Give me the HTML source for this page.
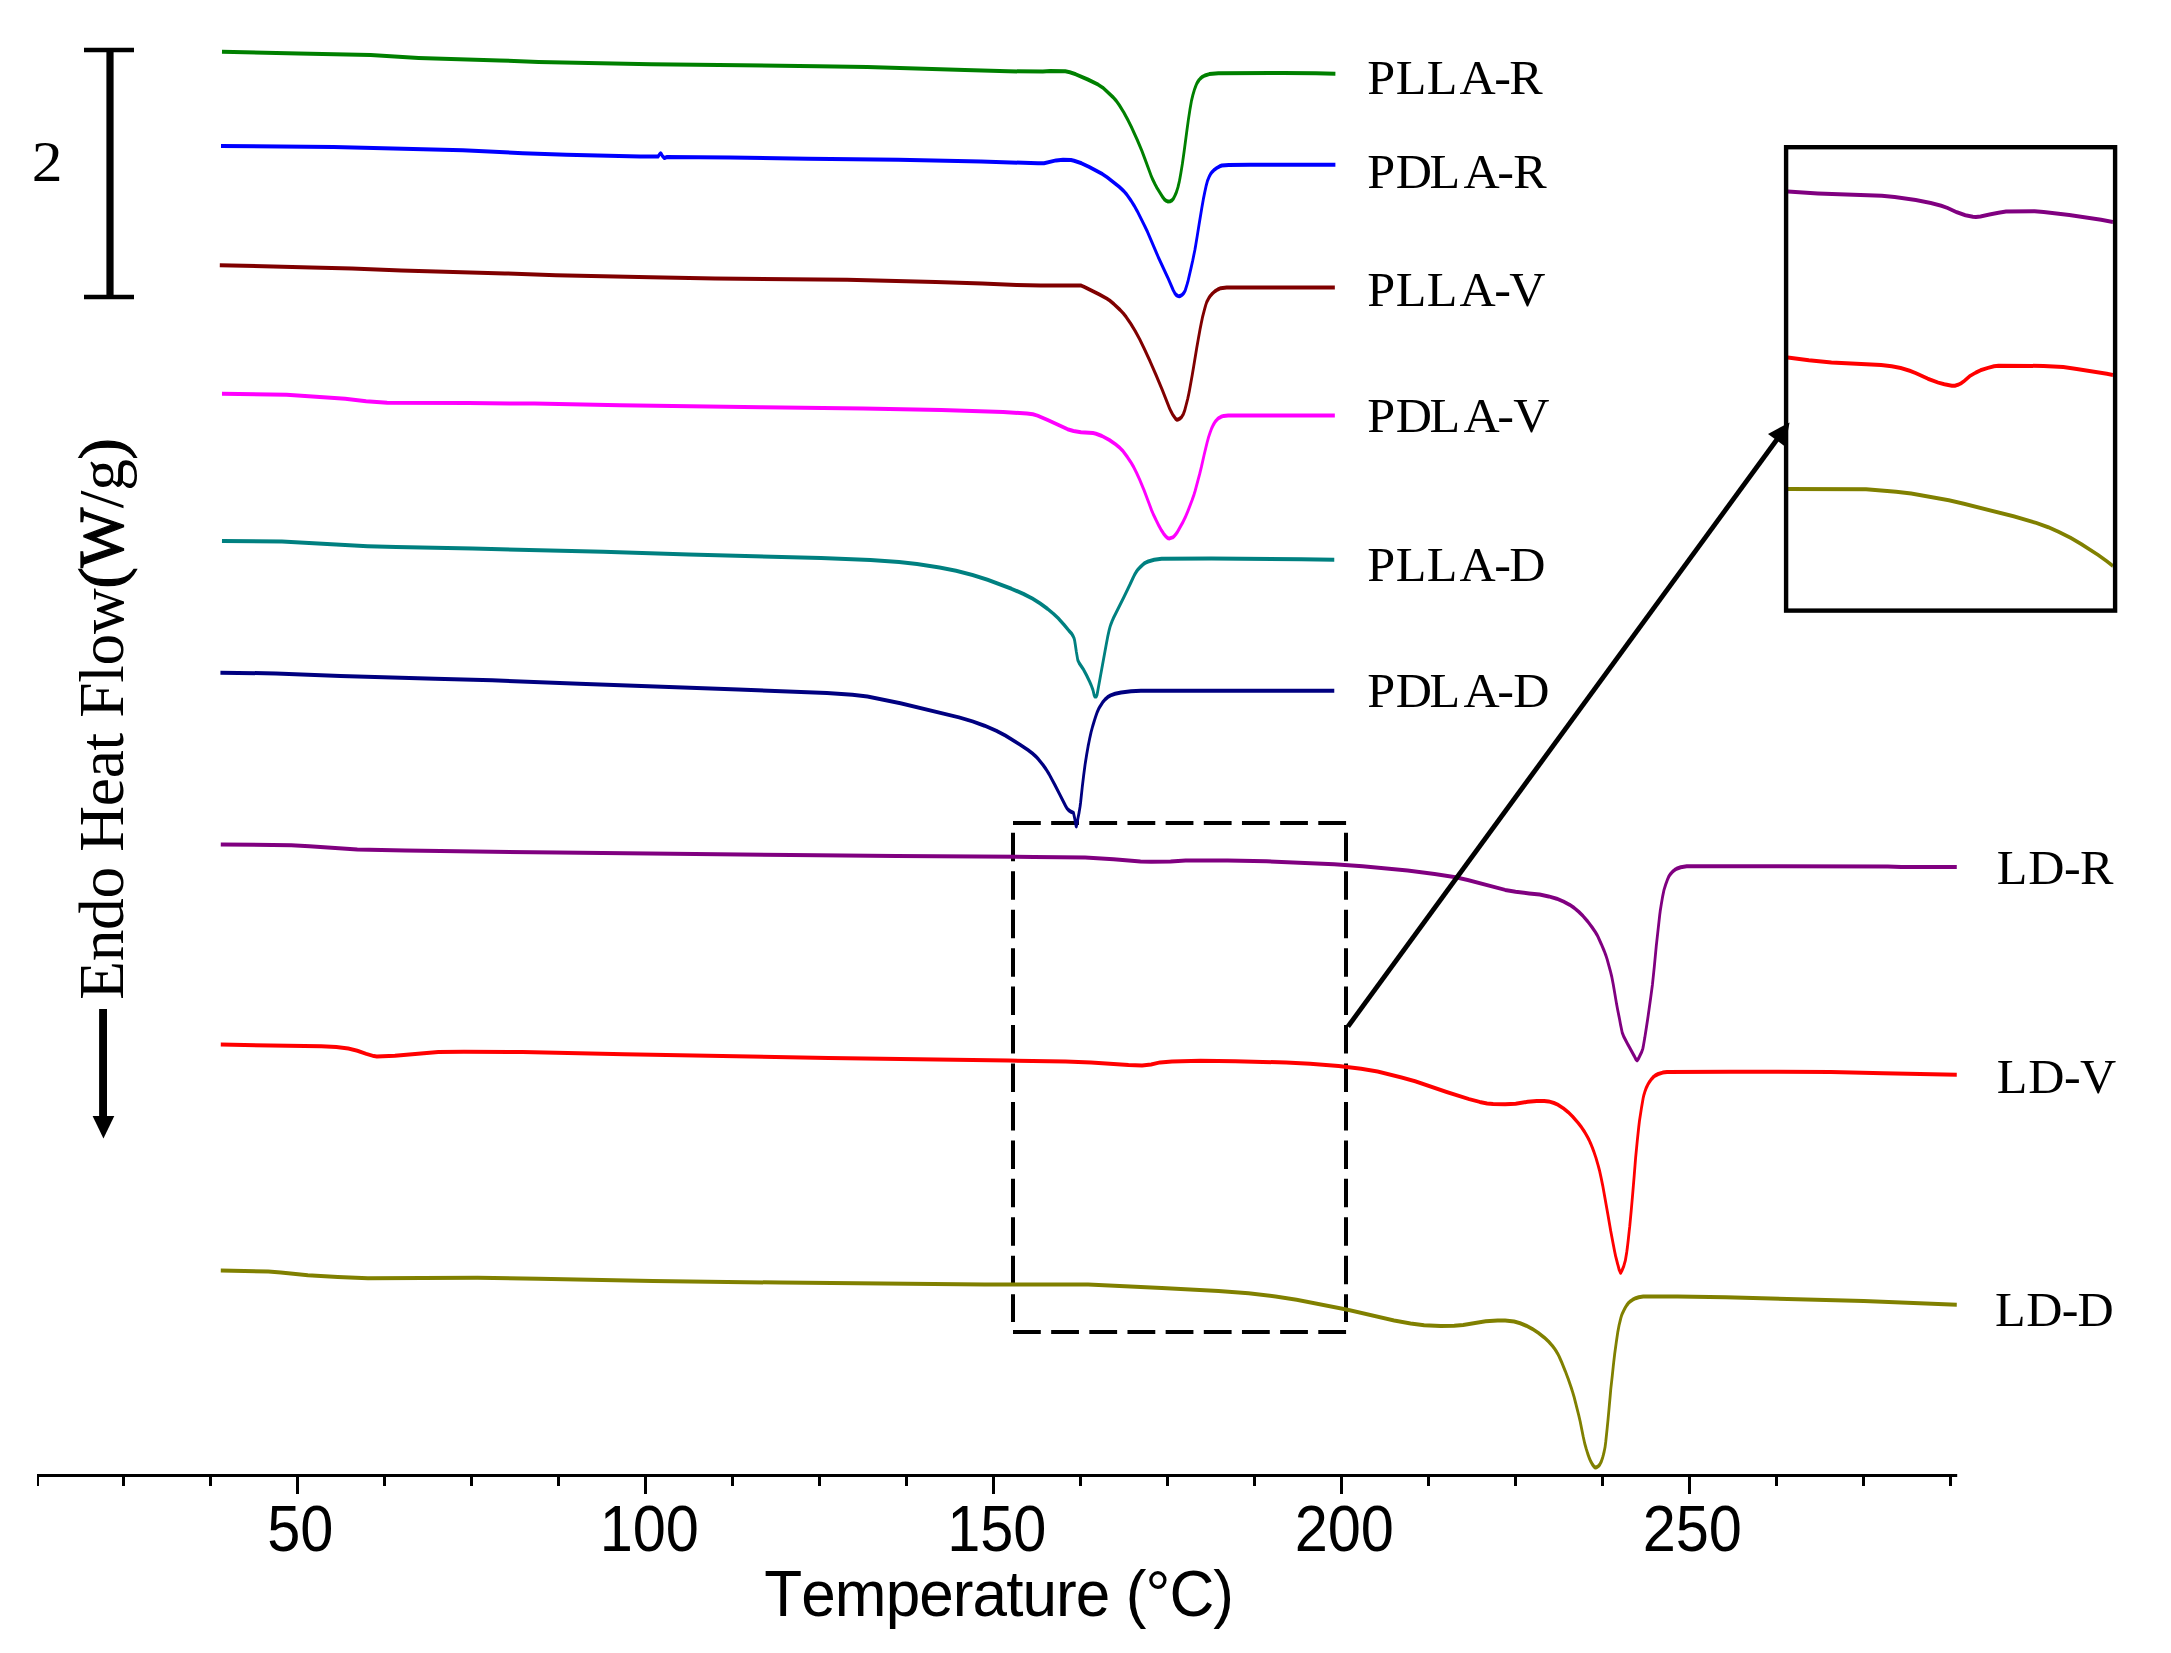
<!DOCTYPE html>
<html lang="en"><head><meta charset="utf-8"><title>DSC heating curves</title>
<style>
html,body{margin:0;padding:0;background:#fff;}
body{width:2171px;height:1653px;overflow:hidden;}
svg{display:block;}
text{font-kerning:none;}
.lab{font-family:"Liberation Serif",serif;font-size:48px;fill:#000;}
.tick{font-family:"Liberation Sans",sans-serif;font-size:64px;fill:#000;text-anchor:middle;}
.crv{fill:none;stroke-width:4.0;stroke-linejoin:round;stroke-linecap:butt;}
</style></head><body>
<svg width="2171" height="1653" viewBox="0 0 2171 1653">
<rect x="0" y="0" width="2171" height="1653" fill="#ffffff"/>
<g stroke="#000" stroke-width="3" fill="none">
<line x1="37" y1="1475.5" x2="1957.2" y2="1475.5"/>
<line x1="38" y1="1475.5" x2="38" y2="1486.0" stroke-width="2"/>
<line x1="123.5" y1="1475.5" x2="123.5" y2="1486.0"/>
<line x1="210.5" y1="1475.5" x2="210.5" y2="1486.0"/>
<line x1="297.5" y1="1475.5" x2="297.5" y2="1494.0"/>
<line x1="384.5" y1="1475.5" x2="384.5" y2="1486.0"/>
<line x1="471.5" y1="1475.5" x2="471.5" y2="1486.0"/>
<line x1="558.5" y1="1475.5" x2="558.5" y2="1486.0"/>
<line x1="645.5" y1="1475.5" x2="645.5" y2="1494.0"/>
<line x1="732.5" y1="1475.5" x2="732.5" y2="1486.0"/>
<line x1="819.5" y1="1475.5" x2="819.5" y2="1486.0"/>
<line x1="906.5" y1="1475.5" x2="906.5" y2="1486.0"/>
<line x1="993.5" y1="1475.5" x2="993.5" y2="1494.0"/>
<line x1="1080.5" y1="1475.5" x2="1080.5" y2="1486.0"/>
<line x1="1167.5" y1="1475.5" x2="1167.5" y2="1486.0"/>
<line x1="1254.5" y1="1475.5" x2="1254.5" y2="1486.0"/>
<line x1="1341.5" y1="1475.5" x2="1341.5" y2="1494.0"/>
<line x1="1428.5" y1="1475.5" x2="1428.5" y2="1486.0"/>
<line x1="1515.5" y1="1475.5" x2="1515.5" y2="1486.0"/>
<line x1="1602.5" y1="1475.5" x2="1602.5" y2="1486.0"/>
<line x1="1689.5" y1="1475.5" x2="1689.5" y2="1494.0"/>
<line x1="1776.5" y1="1475.5" x2="1776.5" y2="1486.0"/>
<line x1="1863.5" y1="1475.5" x2="1863.5" y2="1486.0"/>
<line x1="1950.5" y1="1475.5" x2="1950.5" y2="1486.0"/>
</g>
<text class="tick" transform="translate(300.3 1550.6) scale(0.93 1)">50</text>
<text class="tick" transform="translate(649.3 1550.6) scale(0.93 1)">100</text>
<text class="tick" transform="translate(996.8 1550.6) scale(0.93 1)">150</text>
<text class="tick" transform="translate(1344.3 1550.6) scale(0.93 1)">200</text>
<text class="tick" transform="translate(1692.3 1550.6) scale(0.93 1)">250</text>
<text transform="translate(764.3 1616.2) scale(0.965 1)" textLength="486.7" lengthAdjust="spacing" style="font-family:'Liberation Sans',sans-serif;font-size:64.3px;fill:#000">Temperature (°C)</text>
<g stroke="#000" stroke-width="4" fill="none">
<line x1="1013" y1="823" x2="1346.1" y2="823" stroke-dasharray="27.8 10.36"/>
<line x1="1013" y1="1332" x2="1346.1" y2="1332" stroke-dasharray="27.8 10.36"/>
<line x1="1013" y1="832.8" x2="1013" y2="1322" stroke-dasharray="28.5 9.95"/>
<line x1="1346" y1="832.8" x2="1346" y2="1322" stroke-dasharray="28.5 9.95"/>
</g>
<g transform="scale(0.700 1)">
<path class="crv" stroke="#008000" d="M317.1 51.7 L426.5 53.5 L529.4 55.1 L598.0 58.0 L713.7 60.4 L769.4 62.0 L930.2 64.3 L1168.2 66.2 L1238.9 66.9 L1378.2 69.9 L1440.4 71.3 L1489.7 71.6 L1500.4 71.0 L1521.9 71.3 L1528.3 72.3 L1536.9 74.3 L1554.0 79.5 L1569.0 84.7 L1575.5 87.7 L1590.5 97.5 L1594.7 100.9 L1599.0 105.2 L1605.5 112.5 L1611.9 120.8 L1616.2 126.9 L1624.8 140.1 L1631.2 150.8 L1635.5 158.7 L1644.0 174.9 L1646.4 179.0 L1650.5 184.9 L1652.9 188.0 L1656.9 192.5 L1661.2 197.3 L1663.6 199.5 L1665.5 200.6 L1668.1 201.4 L1672.1 201.2 L1674.1 200.4 L1676.2 198.7 L1678.3 195.9 L1680.5 192.4 L1682.7 187.5 L1684.8 181.3 L1685.7 178.0 L1686.9 173.3 L1689.1 163.9 L1691.7 151.0 L1695.5 130.9 L1697.6 120.1 L1699.8 110.1 L1702.0 101.2 L1704.1 95.0 L1706.2 89.9 L1708.4 85.7 L1709.3 84.2 L1710.5 82.5 L1712.9 80.0 L1714.8 78.5 L1716.9 77.2 L1721.2 75.5 L1727.6 74.1 L1740.5 73.2 L1832.7 73.0 L1879.8 73.2 L1907.7 73.8"/>
<path class="crv" stroke="#0000ff" d="M315.7 146.0 L476.6 146.9 L661.1 150.3 L747.0 153.2 L809.2 154.8 L914.3 156.4 L940.1 156.5 L942.2 154.3 L943.6 153.2 L944.4 153.6 L946.5 156.1 L948.7 157.8 L949.3 158.0 L952.9 157.0 L1043.1 157.6 L1154.6 158.7 L1283.4 159.7 L1401.4 161.5 L1482.9 163.3 L1491.5 163.2 L1508.6 160.4 L1518.6 159.8 L1530.1 160.1 L1534.4 160.7 L1545.1 163.3 L1555.8 166.8 L1575.2 174.2 L1581.6 177.2 L1598.8 186.8 L1605.3 191.0 L1609.5 194.4 L1615.9 200.7 L1620.2 205.6 L1624.5 210.9 L1635.2 225.8 L1639.5 232.2 L1654.5 256.8 L1663.1 269.8 L1668.1 277.3 L1676.0 290.1 L1678.1 292.9 L1680.3 294.9 L1682.4 295.9 L1684.6 296.3 L1686.7 295.8 L1688.9 294.8 L1691.0 293.1 L1692.3 291.7 L1693.2 290.4 L1696.0 284.0 L1697.5 280.2 L1701.7 267.4 L1703.9 260.5 L1706.0 253.2 L1706.9 250.2 L1708.2 245.1 L1710.3 236.1 L1712.9 224.8 L1716.8 208.3 L1719.0 199.4 L1721.1 192.1 L1723.2 185.4 L1725.0 180.8 L1727.5 176.5 L1729.6 173.8 L1731.8 171.8 L1733.9 170.3 L1738.2 168.0 L1742.5 166.3 L1745.6 165.5 L1755.4 164.9 L1785.4 164.7 L1907.7 164.7"/>
<path class="crv" stroke="#800000" d="M314.0 265.2 L444.8 267.5 L502.7 268.6 L573.4 270.4 L721.3 273.4 L794.2 275.2 L929.3 277.3 L1021.5 278.4 L1210.1 279.8 L1336.6 282.0 L1403.1 283.6 L1452.4 285.1 L1486.7 285.6 L1542.6 285.4 L1544.6 285.6 L1548.8 286.8 L1570.3 294.3 L1581.0 298.5 L1585.3 300.5 L1591.7 304.3 L1600.3 310.0 L1604.9 313.5 L1608.9 317.1 L1615.3 323.6 L1621.7 331.0 L1628.2 339.4 L1634.6 348.6 L1643.2 361.7 L1651.7 375.4 L1660.3 389.8 L1668.9 405.1 L1671.0 408.7 L1673.2 411.8 L1675.3 414.6 L1679.6 418.9 L1681.3 419.7 L1683.9 419.2 L1686.0 418.3 L1688.2 416.8 L1690.4 414.2 L1692.5 410.2 L1694.6 404.6 L1696.8 398.6 L1698.1 394.3 L1698.9 391.7 L1703.2 375.1 L1705.3 366.3 L1709.6 348.0 L1711.8 339.2 L1714.3 329.5 L1716.1 323.1 L1717.6 318.1 L1718.2 316.2 L1720.9 309.0 L1722.5 305.0 L1724.1 301.7 L1726.8 298.2 L1728.9 296.0 L1731.9 293.6 L1735.4 291.4 L1739.6 289.5 L1743.9 288.2 L1752.5 287.6 L1906.9 287.6"/>
<path class="crv" stroke="#ff00ff" d="M317.1 393.8 L409.4 394.8 L467.3 397.4 L493.1 398.7 L523.1 401.3 L553.1 402.7 L669.0 403.1 L763.4 403.6 L885.7 405.2 L1087.3 407.2 L1233.2 408.4 L1344.8 410.1 L1433.1 412.0 L1467.1 413.5 L1475.6 414.2 L1482.1 415.6 L1497.1 420.2 L1525.0 429.2 L1533.6 431.0 L1544.3 432.3 L1561.5 433.1 L1565.7 433.7 L1574.3 436.0 L1585.1 440.1 L1593.6 444.3 L1600.1 448.1 L1604.4 451.2 L1610.8 457.3 L1615.1 461.8 L1619.4 466.9 L1623.7 472.9 L1628.0 479.5 L1634.4 490.3 L1640.8 502.1 L1645.1 510.2 L1647.3 513.8 L1651.6 520.2 L1655.8 526.1 L1659.3 530.4 L1662.3 533.7 L1664.4 535.6 L1666.6 537.2 L1668.7 538.3 L1670.9 538.4 L1675.2 537.4 L1677.3 536.3 L1680.0 534.0 L1681.6 532.4 L1686.4 526.5 L1690.2 521.7 L1693.0 517.7 L1696.6 511.8 L1703.0 500.1 L1706.0 494.1 L1707.3 491.0 L1711.6 479.7 L1713.8 474.0 L1716.3 466.9 L1720.3 454.5 L1722.4 448.3 L1724.5 442.4 L1726.6 437.0 L1728.8 432.4 L1730.9 428.4 L1733.1 425.1 L1735.7 422.0 L1737.4 420.5 L1739.7 418.8 L1741.7 417.8 L1744.3 416.8 L1748.1 415.9 L1754.5 415.6 L1906.9 415.5"/>
<path class="crv" stroke="#008080" d="M317.1 540.9 L402.9 541.6 L441.5 543.0 L525.1 546.2 L565.9 547.1 L675.3 548.5 L861.8 551.8 L984.1 554.6 L1172.8 558.0 L1243.5 560.1 L1284.3 562.0 L1310.0 563.9 L1342.2 567.4 L1365.8 570.7 L1389.3 575.0 L1410.8 579.8 L1445.1 588.8 L1462.3 594.0 L1475.1 598.7 L1485.8 603.4 L1496.6 608.9 L1505.1 613.9 L1511.6 618.2 L1520.2 624.9 L1526.6 630.3 L1530.9 633.6 L1533.0 636.1 L1534.4 638.3 L1535.2 640.5 L1536.0 644.0 L1537.6 651.6 L1539.5 659.4 L1539.9 660.4 L1541.6 663.0 L1548.0 669.7 L1552.4 675.5 L1556.6 681.6 L1558.8 685.1 L1561.4 690.0 L1563.0 694.9 L1564.0 696.5 L1566.1 696.5 L1567.3 694.6 L1571.6 678.0 L1573.8 669.5 L1580.2 644.9 L1582.3 637.2 L1584.5 630.2 L1585.6 627.3 L1586.6 625.0 L1588.8 621.0 L1590.9 617.6 L1605.9 596.7 L1614.5 584.2 L1618.8 577.6 L1620.9 574.6 L1623.1 572.0 L1625.2 569.8 L1629.5 566.7 L1633.8 563.9 L1635.9 562.9 L1640.2 561.5 L1648.8 559.8 L1659.5 558.8 L1730.3 558.5 L1859.0 559.3 L1906.1 559.8"/>
<path class="crv" stroke="#000080" d="M314.9 672.7 L394.2 673.4 L486.4 676.1 L621.5 678.7 L703.0 680.3 L827.4 683.8 L1054.7 689.5 L1181.3 693.0 L1217.7 694.8 L1239.2 696.5 L1286.4 703.3 L1370.0 717.4 L1389.3 721.4 L1406.5 725.7 L1423.6 730.9 L1436.5 735.7 L1457.9 745.0 L1468.6 750.0 L1475.1 753.5 L1479.4 756.2 L1483.7 759.4 L1490.1 765.0 L1494.4 769.2 L1498.7 774.1 L1507.2 785.2 L1513.7 794.1 L1522.3 806.0 L1524.4 808.5 L1526.6 810.1 L1529.3 811.5 L1533.0 812.6 L1533.6 813.0 L1535.1 817.8 L1537.3 826.0 L1537.6 826.3 L1539.4 820.4 L1540.0 818.0 L1541.6 812.4 L1543.0 806.4 L1543.7 802.6 L1546.1 787.0 L1548.0 775.9 L1549.3 768.8 L1550.1 764.6 L1552.4 754.5 L1554.4 746.4 L1555.6 742.2 L1556.6 738.8 L1558.7 732.1 L1560.9 726.4 L1563.6 720.1 L1565.2 716.7 L1567.3 712.4 L1569.4 709.1 L1571.6 706.3 L1575.9 701.7 L1578.6 699.5 L1582.3 697.2 L1586.6 695.4 L1593.0 693.7 L1601.6 692.4 L1615.7 691.2 L1629.9 690.7 L1906.1 690.7"/>
<path class="crv" stroke="#800080" d="M315.4 844.4 L416.2 845.3 L441.9 846.2 L510.5 849.4 L579.1 850.5 L795.6 852.6 L1129.9 855.0 L1280.0 856.0 L1477.2 856.9 L1550.1 857.6 L1590.8 859.2 L1629.4 861.4 L1644.4 861.8 L1672.2 861.4 L1693.7 860.6 L1753.7 860.5 L1809.4 861.3 L1905.9 864.3 L1946.6 866.3 L2010.9 870.5 L2049.5 873.9 L2079.5 877.3 L2096.7 880.0 L2150.2 889.9 L2165.2 891.8 L2184.5 893.4 L2199.5 894.5 L2212.4 896.4 L2223.9 898.7 L2233.8 901.6 L2242.4 904.8 L2248.8 907.9 L2255.7 912.0 L2261.7 916.2 L2268.1 921.4 L2274.6 927.5 L2278.9 931.9 L2281.9 935.4 L2283.1 937.1 L2287.4 943.8 L2291.7 950.9 L2294.3 955.7 L2296.0 959.5 L2300.3 970.4 L2302.6 977.0 L2304.6 984.3 L2306.7 992.9 L2309.4 1004.1 L2311.0 1010.0 L2313.6 1019.0 L2315.3 1025.4 L2317.4 1032.5 L2319.6 1036.5 L2326.0 1045.1 L2334.6 1055.9 L2336.7 1059.0 L2338.6 1060.2 L2338.9 1060.2 L2341.0 1058.2 L2345.3 1051.8 L2346.9 1048.6 L2347.4 1046.9 L2349.6 1038.1 L2351.7 1028.7 L2353.9 1018.8 L2358.2 997.4 L2360.3 986.3 L2360.6 984.8 L2362.4 972.8 L2363.4 966.0 L2366.1 946.1 L2366.7 942.2 L2371.0 915.1 L2371.7 911.3 L2373.2 904.6 L2375.3 896.1 L2377.1 890.0 L2379.6 884.4 L2381.7 880.3 L2384.1 876.4 L2386.0 874.4 L2389.3 871.8 L2392.5 869.9 L2395.1 868.7 L2401.0 867.2 L2409.6 866.2 L2696.8 866.4 L2716.1 867.0 L2795.4 867.1"/>
<path class="crv" stroke="#ff0000" d="M315.4 1044.6 L459.0 1046.3 L480.5 1047.0 L497.6 1048.5 L510.5 1050.7 L523.3 1053.9 L534.1 1056.1 L538.3 1056.4 L564.1 1055.8 L626.2 1052.0 L662.7 1051.8 L746.3 1052.0 L892.0 1054.2 L1183.5 1057.9 L1440.8 1060.6 L1522.2 1061.5 L1558.6 1062.5 L1612.2 1065.1 L1631.5 1065.4 L1644.4 1064.5 L1657.2 1062.4 L1674.4 1061.5 L1715.1 1060.8 L1764.4 1061.2 L1837.3 1062.5 L1871.6 1063.8 L1912.3 1066.1 L1944.5 1068.8 L1968.0 1071.5 L2002.3 1077.5 L2021.6 1081.2 L2066.6 1092.0 L2098.8 1099.1 L2113.8 1101.9 L2124.5 1103.5 L2133.1 1104.0 L2150.2 1104.3 L2165.2 1103.8 L2182.4 1101.8 L2195.3 1101.0 L2206.0 1101.0 L2212.4 1101.4 L2220.0 1103.0 L2225.3 1104.7 L2233.8 1108.5 L2240.3 1112.2 L2246.7 1116.6 L2254.3 1122.8 L2259.6 1127.6 L2263.8 1132.0 L2268.1 1137.3 L2270.3 1140.3 L2272.4 1143.6 L2275.0 1148.0 L2276.7 1151.2 L2280.0 1158.0 L2283.1 1165.5 L2285.3 1171.3 L2287.4 1178.1 L2289.6 1185.6 L2297.1 1215.0 L2301.1 1231.2 L2304.7 1244.5 L2306.7 1251.7 L2308.1 1256.4 L2308.9 1258.5 L2311.0 1264.3 L2311.7 1266.0 L2313.1 1269.8 L2315.0 1272.8 L2315.3 1272.7 L2317.4 1270.0 L2319.6 1266.2 L2321.7 1261.0 L2322.0 1260.2 L2323.9 1252.2 L2324.9 1247.0 L2326.0 1240.4 L2327.4 1231.2 L2328.2 1226.3 L2330.3 1210.7 L2332.4 1194.0 L2334.6 1175.6 L2336.6 1157.7 L2338.9 1141.3 L2341.0 1127.4 L2342.1 1120.9 L2343.2 1115.8 L2345.3 1106.4 L2347.4 1098.0 L2348.1 1095.8 L2349.6 1092.2 L2351.7 1088.0 L2353.9 1084.8 L2356.0 1082.2 L2358.2 1080.1 L2360.3 1078.3 L2362.4 1076.7 L2364.7 1075.5 L2368.9 1074.0 L2375.3 1072.6 L2381.4 1071.9 L2471.8 1071.7 L2615.4 1072.0 L2690.4 1073.3 L2795.4 1074.8"/>
<path class="crv" stroke="#808000" d="M315.4 1270.6 L383.3 1271.6 L401.2 1272.6 L439.8 1275.2 L482.6 1277.0 L525.5 1278.3 L682.0 1277.8 L769.8 1278.8 L932.7 1280.9 L1114.9 1282.6 L1406.5 1284.4 L1554.4 1284.5 L1659.7 1288.1 L1740.8 1291.1 L1783.7 1293.3 L1822.3 1296.5 L1852.3 1299.7 L1925.2 1309.8 L1991.6 1320.4 L2015.2 1323.4 L2034.5 1325.2 L2058.1 1326.0 L2077.4 1325.7 L2090.2 1325.1 L2122.4 1321.3 L2139.5 1320.4 L2150.2 1320.6 L2163.1 1321.5 L2171.7 1323.3 L2180.3 1325.7 L2188.8 1328.8 L2197.4 1332.7 L2206.0 1337.4 L2212.4 1341.7 L2217.9 1346.0 L2221.0 1348.9 L2223.1 1351.1 L2225.3 1353.7 L2227.4 1356.6 L2231.7 1363.4 L2236.0 1370.9 L2240.3 1378.9 L2244.6 1387.6 L2246.7 1392.3 L2248.8 1397.3 L2251.0 1403.2 L2255.3 1415.1 L2257.4 1421.5 L2261.7 1436.5 L2263.9 1443.5 L2266.0 1448.8 L2268.1 1453.5 L2270.3 1457.9 L2272.4 1461.3 L2275.0 1464.5 L2276.7 1466.2 L2278.9 1467.6 L2281.0 1467.2 L2283.6 1466.0 L2285.3 1464.6 L2287.4 1461.8 L2289.6 1457.3 L2290.3 1455.5 L2291.7 1451.5 L2292.9 1447.3 L2293.9 1441.9 L2296.0 1428.0 L2297.1 1420.2 L2298.1 1412.8 L2299.1 1405.0 L2300.3 1395.8 L2301.1 1389.3 L2303.3 1375.5 L2304.6 1366.8 L2305.3 1362.2 L2306.7 1353.9 L2308.9 1342.6 L2311.0 1332.6 L2313.1 1324.8 L2315.3 1318.5 L2316.4 1315.8 L2317.4 1313.9 L2319.6 1310.6 L2321.7 1307.8 L2323.9 1305.3 L2326.1 1303.2 L2328.2 1301.8 L2332.4 1299.7 L2336.7 1298.2 L2341.0 1297.2 L2347.4 1296.4 L2396.7 1296.4 L2465.3 1297.2 L2662.5 1301.0 L2795.4 1304.8"/>
<path class="crv" stroke="#800080" d="M2554.0 191.5 L2597.0 193.4 L2688.3 195.8 L2706.7 197.1 L2736.8 200.1 L2758.3 203.0 L2773.3 205.8 L2781.9 207.9 L2795.7 212.3 L2807.7 215.3 L2818.5 216.8 L2822.8 217.0 L2829.2 216.5 L2842.1 214.6 L2855.0 212.7 L2865.8 211.4 L2906.6 211.3 L2919.5 211.9 L2956.1 215.0 L3001.6 219.8 L3018.4 222.0"/>
<path class="crv" stroke="#ff0000" d="M2554.0 357.5 L2584.1 360.3 L2616.4 362.4 L2687.3 364.9 L2702.4 366.2 L2715.3 368.0 L2728.2 370.8 L2736.8 373.1 L2754.0 378.7 L2769.0 382.6 L2777.7 384.3 L2788.4 385.7 L2792.7 385.7 L2797.0 384.8 L2801.3 383.4 L2805.6 381.2 L2814.2 376.0 L2822.8 372.5 L2829.2 370.3 L2840.0 367.9 L2848.6 366.3 L2855.0 365.8 L2919.5 365.9 L2947.5 367.1 L2966.8 368.9 L3009.8 373.8 L3018.4 374.9"/>
<path class="crv" stroke="#808000" d="M2554.0 489.1 L2665.8 489.2 L2708.8 491.7 L2730.3 493.5 L2784.1 500.3 L2805.6 503.8 L2876.5 516.3 L2908.8 522.9 L2926.0 527.2 L2941.0 531.8 L2958.2 537.9 L2973.3 544.1 L2996.9 554.7 L3009.8 561.2 L3018.4 565.9"/>
</g>
<line x1="1348.0" y1="1026.5" x2="1777.7" y2="438.5" stroke="#000" stroke-width="4.8"/>
<polygon fill="#000" points="1789.5,422.4 1785.0,446.4 1768.0,434.0"/>
<rect x="1786.1" y="147.2" width="329" height="463.4" fill="none" stroke="#000" stroke-width="4.4"/>
<g stroke="#000" fill="none">
<line x1="110" y1="50" x2="110" y2="297" stroke-width="7.2"/>
<line x1="84" y1="50" x2="134" y2="50" stroke-width="4.4"/>
<line x1="84" y1="297" x2="134" y2="297" stroke-width="4.4"/>
</g>
<text transform="translate(31.8 181) scale(1.1 1)" style="font-family:'Liberation Serif',serif;font-size:56px;fill:#000">2</text>
<text transform="translate(122.6 999.8) rotate(-90)" textLength="561.5" lengthAdjust="spacing" style="font-family:'Liberation Serif',serif;font-size:63.5px;fill:#000">Endo Heat Flow<tspan stroke="#000" stroke-width="1.3">(W</tspan>/g<tspan stroke="#000" stroke-width="1.3">)</tspan></text>
<line x1="103.05" y1="1009" x2="103.05" y2="1118" stroke="#000" stroke-width="7.9"/>
<polygon fill="#000" points="92.6,1116 114.3,1116 103.45,1138.4"/>
<text class="lab" transform="scale(1.045 1)" x="1308.47 1335.55 1365.22 1396.65 1429.90 1444.35" y="93.9">PLLA-R</text>
<text class="lab" transform="scale(1.045 1)" x="1308.47 1335.55 1367.99 1400.48 1432.78 1448.18" y="188.0">PDLA-R</text>
<text class="lab" transform="scale(1.045 1)" x="1308.47 1335.55 1365.22 1396.65 1429.90 1444.35" y="305.9">PLLA-V</text>
<text class="lab" transform="scale(1.045 1)" x="1308.47 1335.55 1367.99 1400.48 1432.78 1448.18" y="432.0">PDLA-V</text>
<text class="lab" transform="scale(1.045 1)" x="1308.47 1335.55 1365.22 1396.65 1429.90 1444.35" y="581.0">PLLA-D</text>
<text class="lab" transform="scale(1.045 1)" x="1308.47 1335.55 1367.99 1400.48 1432.78 1448.18" y="707.0">PDLA-D</text>
<text class="lab" transform="scale(1.045 1)" x="1910.77 1941.00 1975.07 1990.33" y="884.0">LD-R</text>
<text class="lab" transform="scale(1.045 1)" x="1910.77 1941.00 1975.07 1990.33" y="1092.8">LD-V</text>
<text class="lab" transform="scale(1.045 1)" x="1909.00 1939.04 1973.01 1988.13" y="1326.4">LD-D</text>
</svg>
</body></html>
